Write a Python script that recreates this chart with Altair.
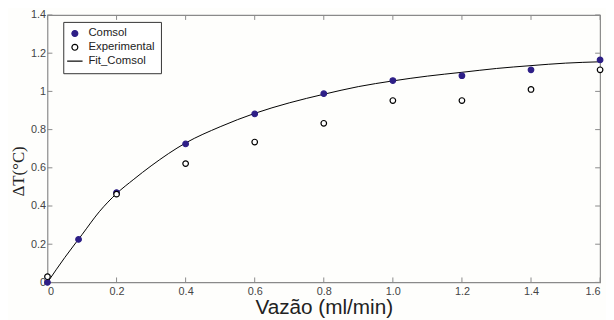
import altair as alt
import pandas as pd

# data
comsol_x = [0, 0.09, 0.2, 0.4, 0.6, 0.8, 1.0, 1.2, 1.4, 1.6]
comsol_y = [0.0, 0.225, 0.47, 0.725, 0.882, 0.988, 1.057, 1.082, 1.113, 1.165]
exp_x = [0, 0.2, 0.4, 0.6, 0.8, 1.0, 1.2, 1.4, 1.6]
exp_y = [0.03, 0.462, 0.622, 0.735, 0.833, 0.952, 0.952, 1.01, 1.113]
fit_x = [0, 0.05, 0.1, 0.15, 0.2, 0.25, 0.3, 0.4, 0.5, 0.6, 0.7, 0.8, 0.9, 1.0, 1.1, 1.2, 1.3, 1.4, 1.5, 1.6]
fit_y = [0, 0.13, 0.25, 0.37, 0.465, 0.54, 0.61, 0.73, 0.815, 0.885, 0.94, 0.985, 1.025, 1.055, 1.08, 1.10, 1.12, 1.135, 1.148, 1.155]
x_ticks = [0, 0.2, 0.4, 0.6, 0.8, 1.0, 1.2, 1.4, 1.6]
y_ticks = [0, 0.2, 0.4, 0.6, 0.8, 1.0, 1.2, 1.4]
series = ["Comsol", "Experimental", "Fit_Comsol"]

W, H = 560, 271
BLUE = "#2e1f87"
GREY = "#8a8a8a"

pts = pd.DataFrame(
    [{"x": a, "y": b, "s": "Comsol"} for a, b in zip(comsol_x, comsol_y)]
    + [{"x": a, "y": b, "s": "Experimental"} for a, b in zip(exp_x, exp_y)]
)
fit = pd.DataFrame({"x": fit_x, "y": fit_y, "s": "Fit_Comsol"})
xt = pd.DataFrame({"t": x_ticks})
yt = pd.DataFrame({"t": y_ticks})

xscale = alt.Scale(domain=[0, 1.6], nice=False, zero=False)
yscale = alt.Scale(domain=[0, 1.4], nice=False, zero=False)

legend = alt.Legend(
    title=None, orient="none", legendX=16, legendY=7,
    strokeColor="#333", fillColor="white", padding=6,
    labelFont="Liberation Sans", labelFontSize=11.5, labelColor="#222",
    symbolSize=36, rowPadding=1, labelOffset=8, symbolStrokeWidth=1.2,
)

xaxis = alt.Axis(
    values=x_ticks, ticks=False, domain=False, grid=False, labelOverlap=False,
    labelExpr="datum.value == 0 ? '0' : format(datum.value, '.1f')",
    labelFont="Liberation Sans", labelFontSize=11, labelColor="#444",
    labelPadding=3, title="Vazão (ml/min)", titleFont="Liberation Sans",
    titleFontSize=21, titleFontWeight="normal", titleColor="#222",
    titleY=32, titleBaseline="alphabetic",
)
yaxis = alt.Axis(
    values=y_ticks, ticks=False, domain=False, grid=False, labelOverlap=False,
    labelExpr="format(datum.value, '~g')",
    labelFont="Liberation Sans", labelFontSize=11, labelColor="#444",
    labelPadding=2, title="ΔT(°C)", titleFont="Liberation Serif",
    titleFontSize=17, titleFontWeight="normal", titleColor="#222",
    titleX=-24, titleY=158, titleBaseline="alphabetic",
)

color_scale = alt.Scale(domain=series, range=[BLUE, "black", "black"])
fill_scale = alt.Scale(domain=series, range=[BLUE, "white", "transparent"])
shape_scale = alt.Scale(domain=series, range=["circle", "circle", "M-2.6,0L2.6,0"])

line = alt.Chart(fit).mark_line(strokeWidth=1.0, interpolate="monotone").encode(
    x=alt.X("x:Q", scale=xscale, axis=xaxis),
    y=alt.Y("y:Q", scale=yscale, axis=yaxis),
    stroke=alt.Stroke("s:N", scale=color_scale, legend=legend),
)

points = alt.Chart(pts).mark_point(size=32, strokeWidth=1.2, opacity=1).encode(
    x=alt.X("x:Q", scale=xscale, axis=xaxis),
    y=alt.Y("y:Q", scale=yscale, axis=yaxis),
    stroke=alt.Stroke("s:N", scale=color_scale, legend=legend),
    fill=alt.Fill("s:N", scale=fill_scale, legend=legend),
    shape=alt.Shape("s:N", scale=shape_scale, legend=legend),
)

tb = alt.Chart(xt).mark_rule(color=GREY, strokeWidth=1).encode(
    x=alt.X("t:Q", scale=xscale, axis=xaxis), y=alt.value(H), y2=alt.value(H - 5))
tt = alt.Chart(xt).mark_rule(color=GREY, strokeWidth=1).encode(
    x=alt.X("t:Q", scale=xscale, axis=xaxis), y=alt.value(0), y2=alt.value(5))
tl = alt.Chart(yt).mark_rule(color=GREY, strokeWidth=1).encode(
    y=alt.Y("t:Q", scale=yscale, axis=yaxis), x=alt.value(0), x2=alt.value(5))
tr = alt.Chart(yt).mark_rule(color=GREY, strokeWidth=1).encode(
    y=alt.Y("t:Q", scale=yscale, axis=yaxis), x=alt.value(W), x2=alt.value(W - 5))

chart = alt.layer(tb, tt, tl, tr, line, points).properties(
    width=W, height=H,
    autosize=alt.AutoSizeParams(type="none"),
    padding={"left": 40, "top": 5, "right": 6, "bottom": 36},
    background="#fefefc",
).configure_view(stroke=GREY, strokeWidth=1.2, fill="#fefefc")

chart.save("out.html", embed_options={"renderer": "svg", "actions": False})
